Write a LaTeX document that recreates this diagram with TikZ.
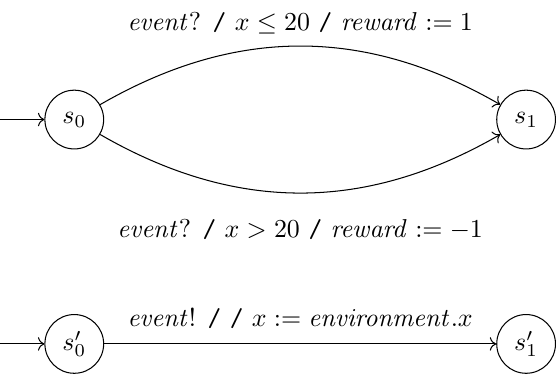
\documentclass[tikz,border=0pt]{standalone}
\usepackage{amsmath,amssymb}
\usetikzlibrary{arrows.meta,positioning}
\newcommand{\tsep}{\texttt{/}}
\tikzset{
  stnode/.style={circle, draw, minimum size=22.7pt, inner sep=1pt},
  tarr/.style={->},
  tlabel/.style={font=\normalsize},
}

\begin{document}
\begin{tikzpicture}[node distance=151.5pt]
    \node[stnode] (s0) {$s_0$};
    \node[stnode, right=of s0] (s1) {$s_1$};
    \node[stnode, below=63.6pt of s0] (t0) {$s'_0$};
    \node[stnode, right=of t0] (t1) {$s'_1$};
    \coordinate[left=17.3pt of s0] (i0);
    \coordinate[left=17.3pt of t0] (i1);
    \useasboundingbox ([shift={(-28.7pt,46.2pt)}]s0.center) rectangle ([shift={(185.2pt,-100.8pt)}]s0.center);
    \draw[tarr] (i0) -- (s0);
    \draw[tarr] (i1) -- (t0);
    \draw[tarr] (s0) to[bend left=30] node[tlabel, above=1pt] {$\mathit{event}$? \tsep{} $x \leq 20$ \tsep{} $\mathit{reward} := 1$} (s1);
    \draw[tarr] (s0) to[bend right=30] node[tlabel, below=6.5pt] {$\mathit{event}$? \tsep{} $x > 20$ \tsep{} $\mathit{reward} := -1$} (s1);
    \draw[tarr] (t0) -- node[tlabel, above=2.5pt] {$\mathit{event}$! \tsep{} \tsep{} $x := \mathit{environment}.x$} (t1);
\end{tikzpicture}
\end{document}
